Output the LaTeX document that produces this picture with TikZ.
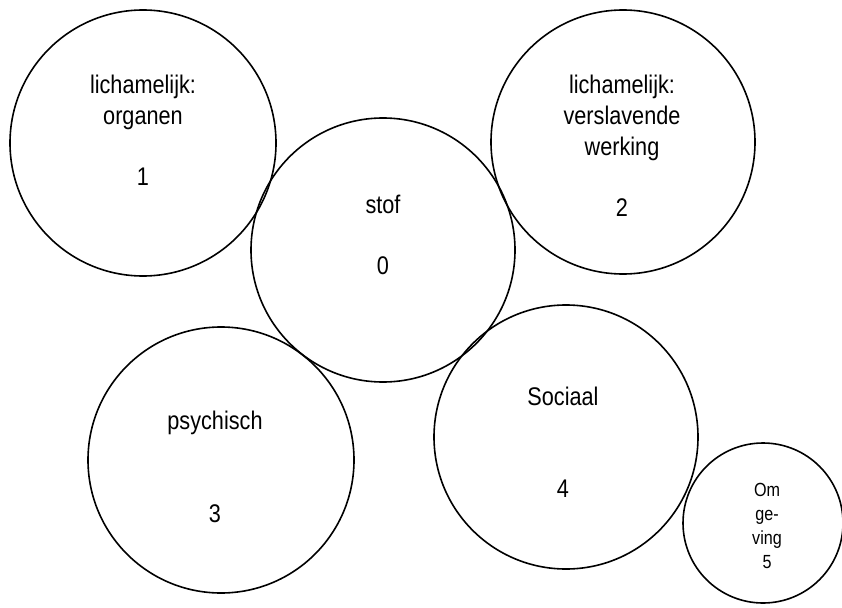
\documentclass[tikz,border=0pt]{standalone}
\usepackage{fontspec}
\setmainfont{Liberation Sans}[FakeStretch=0.85]
\usetikzlibrary{positioning,calc}

\begin{document}
\begin{tikzpicture}[x=1pt,y=-1pt,
    bubble/.style={circle,draw,line width=1.6pt,inner sep=0pt},
    words/.style={align=center,inner sep=0pt,font=\fontsize{25.5}{31}\selectfont},
    smallwords/.style={align=center,inner sep=0pt,font=\fontsize{19}{24}\selectfont}]
    \useasboundingbox (0,0) rectangle (842,607);

    \coordinate (stofNode) at (383,250);
    \coordinate (organenNode) at (143,143);
    \coordinate (verslavingNode) at (623,142);
    \coordinate (psychischNode) at (221,460);
    \coordinate (sociaalNode) at (566,437);
    \coordinate (omgevingNode) at (763,523);

    \node[bubble,minimum size=264pt] (stof) at (stofNode) {};
    \node[bubble,minimum size=266pt] (organen) at (organenNode) {};
    \node[bubble,minimum size=264pt] (verslaving) at (verslavingNode) {};
    \node[bubble,minimum size=266pt] (psychisch) at (psychischNode) {};
    \node[bubble,minimum size=264pt] (sociaal) at (sociaalNode) {};
    \node[bubble,minimum size=160pt] (omgeving) at (omgevingNode) {};

    \node[words] (organenText) at (143,102) {lichamelijk:\\organen};
    \node[words] (organenNum) at (143,176.5) {1};

    \node[words] (stofText) at (383,204) {stof};
    \node[words] (stofNum) at (383,266) {0};

    \node[words] (verslavingText) at (622,118) {lichamelijk:\\verslavende\\werking};
    \node[words] (verslavingNum) at (622,208) {2};

    \node[words] (psychischText) at (215,423) {psychisch};
    \node[words] (psychischNum) at (215,513.5) {3};

    \node[words] (sociaalText) at (563,396) {Sociaal};
    \node[words] (sociaalNum) at (563,489) {4};

    \node[smallwords] (omgevingText) at (767,526) {Om\\ge-\\ving\\5};
\end{tikzpicture}
\end{document}
